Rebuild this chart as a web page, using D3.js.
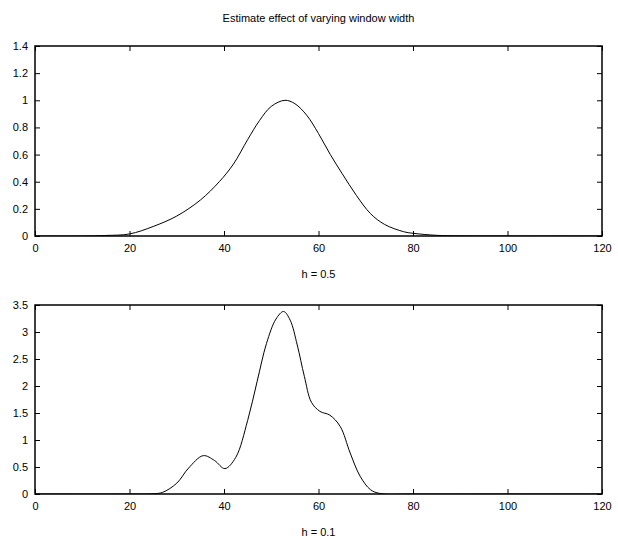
<!DOCTYPE html>
<html>
<head>
<meta charset="utf-8">
<script src="https://cdn.jsdelivr.net/npm/d3@7"></script>
<style>
  body { margin: 0; background: #fff; }
  svg { display: block; }
  text { font-family: "Liberation Sans", Arial, Helvetica, sans-serif; fill: #000; }
</style>
</head>
<body>
<div id="chart"></div>
<script>
// density estimate, h = 0.5
const xWide = [0, 10, 15, 20, 25, 30, 35, 39, 42, 45, 47.5, 50, 52.9, 55, 57.5, 60, 62.5, 65, 68, 71, 74, 78, 80, 85, 90, 100, 120];
const yWide = [0, 0, 0.004, 0.015, 0.07, 0.147, 0.265, 0.40, 0.53, 0.71, 0.85, 0.955, 1.0, 0.975, 0.89, 0.755, 0.60, 0.46, 0.30, 0.165, 0.085, 0.032, 0.02, 0.005, 0.001, 0, 0];

// density estimate, h = 0.1
const xNarrow = [0, 20, 25, 27, 30, 32.5, 35.6, 38, 40.2, 42.5, 45, 47, 49, 51, 52.6, 54, 55.5, 57, 58.5, 60.3, 62.4, 64.6, 66.7, 68.8, 71, 73, 80, 100, 120];
const yNarrow = [0, 0, 0.005, 0.03, 0.2, 0.48, 0.71, 0.62, 0.47, 0.68, 1.36, 2.08, 2.79, 3.24, 3.38, 3.22, 2.76, 2.18, 1.7, 1.53, 1.46, 1.25, 0.76, 0.33, 0.08, 0.01, 0, 0, 0];

const xTicks = [0, 20, 40, 60, 80, 100, 120];
const yTicksWide = [0, 0.2, 0.4, 0.6, 0.8, 1, 1.2, 1.4];
const yTicksNarrow = [0, 0.5, 1, 1.5, 2, 2.5, 3, 3.5];

const title = 'Estimate effect of varying window width';
const labels = ['h = 0.5', 'h = 0.1'];

const W = 618, H = 538;
const svg = d3.select('#chart').append('svg')
  .attr('width', W)
  .attr('height', H);

const left = 35, right = 602;
const x = d3.scaleLinear().domain([0, 120]).range([left, right]);

svg.append('text')
  .attr('x', (left + right) / 2)
  .attr('y', 22)
  .attr('text-anchor', 'middle')
  .style('font-size', '11px')
  .text(title);

function panel(xs, ys, top, bottom, yMax, yTicks, label, id) {
  const y = d3.scaleLinear().domain([0, yMax]).range([bottom, top]);
  const g = svg.append('g');
  const tl = 5;

  // ticks inside the box, all four sides
  g.append('g')
    .attr('transform', `translate(0,${bottom})`)
    .call(d3.axisBottom(x).tickValues(xTicks).tickSize(-tl).tickPadding(8).tickFormat(d3.format('d')))
    .call(a => a.select('.domain').remove());
  g.append('g')
    .attr('transform', `translate(0,${top})`)
    .call(d3.axisTop(x).tickValues(xTicks).tickSize(-tl).tickFormat(''))
    .call(a => a.select('.domain').remove());
  g.append('g')
    .attr('transform', `translate(${left},0)`)
    .call(d3.axisLeft(y).tickValues(yTicks).tickSize(-tl).tickPadding(7).tickFormat(d => String(d)))
    .call(a => a.select('.domain').remove());
  g.append('g')
    .attr('transform', `translate(${right},0)`)
    .call(d3.axisRight(y).tickValues(yTicks).tickSize(-tl).tickFormat(''))
    .call(a => a.select('.domain').remove());

  g.selectAll('.tick line').attr('stroke', '#000').attr('stroke-width', 1);
  g.selectAll('.tick text')
    .style('font-size', '11px')
    .style('font-family', '"Liberation Sans", Arial, sans-serif')
    .attr('fill', '#000');

  // keep the smoothed curve inside the box
  svg.append('clipPath').attr('id', id)
    .append('rect')
    .attr('x', left).attr('y', top)
    .attr('width', right - left).attr('height', bottom - top);

  const line = d3.line()
    .x((d, i) => x(xs[i]))
    .y(d => y(d))
    .curve(d3.curveCatmullRom.alpha(0.5));

  g.append('path')
    .datum(ys)
    .attr('d', line)
    .attr('clip-path', `url(#${id})`)
    .attr('fill', 'none')
    .attr('stroke', '#000')
    .attr('stroke-width', 1);

  g.append('rect')
    .attr('x', left)
    .attr('y', top)
    .attr('width', right - left)
    .attr('height', bottom - top)
    .attr('fill', 'none')
    .attr('stroke', '#000')
    .attr('stroke-width', 1.5);

  svg.append('text')
    .attr('x', (left + right) / 2)
    .attr('y', bottom + 42)
    .attr('text-anchor', 'middle')
    .style('font-size', '11px')
    .text(label);
}

panel(xWide, yWide, 46, 236, 1.4, yTicksWide, labels[0], 'clipTop');
panel(xNarrow, yNarrow, 305, 494, 3.5, yTicksNarrow, labels[1], 'clipBottom');
</script>
</body>
</html>
